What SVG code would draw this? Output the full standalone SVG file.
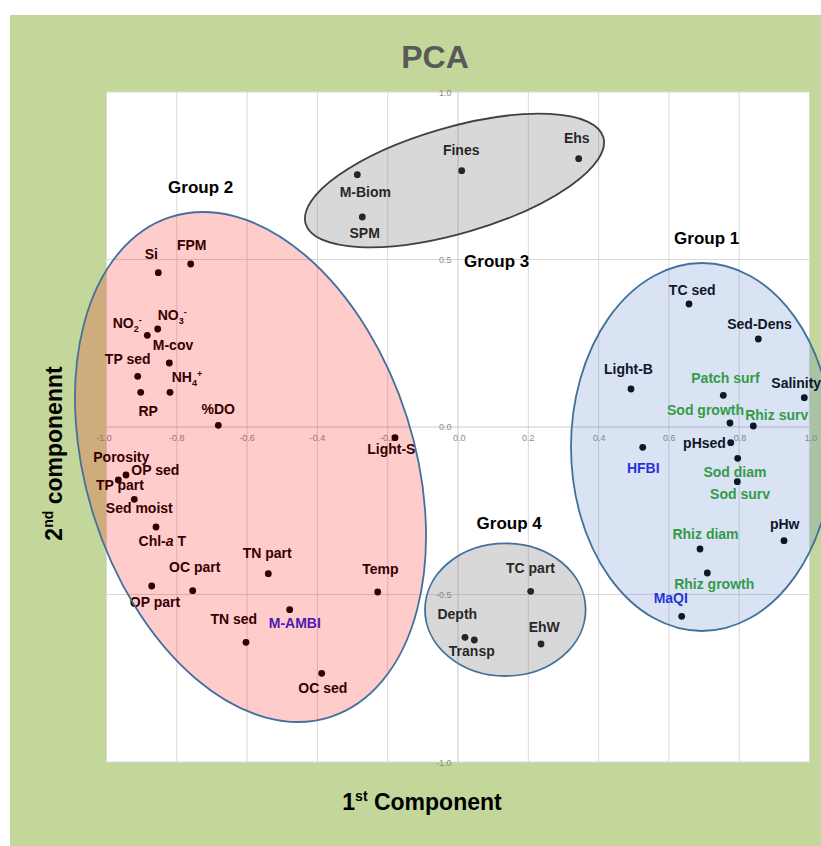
<svg xmlns="http://www.w3.org/2000/svg" width="821" height="846" viewBox="0 0 821 846">
<style>
text{font-family:"Liberation Sans",Arial,sans-serif}
.lbl{font-size:14px;font-weight:bold;text-anchor:middle;fill:#000}
.st{text-anchor:start}
.grp{font-size:17px;font-weight:bold;text-anchor:middle;fill:#000}
.tick{font-size:9px;fill:#8C8C8C;text-anchor:middle}
.ytick{font-size:9px;fill:#8C8C8C;text-anchor:end}
.green{fill:#2FA62A}
.blue{fill:#1F1FE0}
.grid{stroke:#D9D9D9;stroke-width:1}
.ax{stroke:#C8C8C8;stroke-width:1}
.sub{font-size:9px}
.e1{fill:#4472C4;fill-opacity:.2;stroke:#41719C;stroke-width:1.8}
.e2{fill:#FF0000;fill-opacity:.2;stroke:#41719C;stroke-width:1.8}
.e3{fill:#7F7F7F;fill-opacity:.3;stroke:#404040;stroke-width:1.8}
.e4{fill:#7F7F7F;fill-opacity:.3;stroke:#41719C;stroke-width:1.8}
</style>
<defs>
<circle id="d" r="3.4" fill="#000"/>
</defs>
<rect x="10" y="15" width="811" height="831" fill="#C4D79B"/>
<text x="435" y="68" font-size="32" font-weight="bold" fill="#595959" text-anchor="middle">PCA</text>
<rect x="106.5" y="92" width="703" height="670" fill="#fff"/>
<g id="grid">
<line class="grid" x1="106.5" y1="92" x2="106.5" y2="762"/>
<line class="grid" x1="176.8" y1="92" x2="176.8" y2="762"/>
<line class="grid" x1="247.1" y1="92" x2="247.1" y2="762"/>
<line class="grid" x1="317.4" y1="92" x2="317.4" y2="762"/>
<line class="grid" x1="387.7" y1="92" x2="387.7" y2="762"/>
<line class="grid" x1="528.3" y1="92" x2="528.3" y2="762"/>
<line class="grid" x1="598.6" y1="92" x2="598.6" y2="762"/>
<line class="grid" x1="668.9" y1="92" x2="668.9" y2="762"/>
<line class="grid" x1="739.2" y1="92" x2="739.2" y2="762"/>
<line class="grid" x1="809.5" y1="92" x2="809.5" y2="762"/>
<line class="grid" x1="106.5" y1="92" x2="809.5" y2="92"/>
<line class="grid" x1="106.5" y1="259.5" x2="809.5" y2="259.5"/>
<line class="grid" x1="106.5" y1="594.5" x2="809.5" y2="594.5"/>
<line class="grid" x1="106.5" y1="762" x2="809.5" y2="762"/>
</g>
<g id="connectors">
<line class="ax" x1="458" y1="92" x2="458" y2="762"/>
<line class="ax" x1="106.5" y1="427" x2="809.5" y2="427"/>
</g>
<g id="ticks">
<text class="tick" x="104" y="441">-1.0</text>
<text class="tick" x="176.8" y="441">-0.8</text>
<text class="tick" x="247.1" y="441">-0.6</text>
<text class="tick" x="317.4" y="441">-0.4</text>
<text class="tick" x="387.7" y="441">-0.2</text>
<text class="tick" x="459.3" y="441">0.0</text>
<text class="tick" x="528.3" y="441">0.2</text>
<text class="tick" x="599.3" y="441">0.4</text>
<text class="tick" x="669.3" y="441">0.6</text>
<text class="tick" x="740" y="441">0.8</text>
<text class="tick" x="811" y="441">1.0</text>
<text class="ytick" x="451.5" y="96">1.0</text>
<text class="ytick" x="451.5" y="263">0.5</text>
<text class="ytick" x="451.5" y="430">0.0</text>
<text class="ytick" x="451.5" y="597.5">-0.5</text>
<text class="ytick" x="451.5" y="766">-1.0</text>
</g>
<g id="group2">
<text class="grp" x="200.7" y="193.3">Group 2</text>
<use href="#d" x="158.3" y="272.7"/><text class="lbl" x="151.3" y="259.3">Si</text>
<use href="#d" x="190.7" y="264"/><text class="lbl" x="191.7" y="250">FPM</text>
<use href="#d" x="157.7" y="329"/><text class="lbl st" x="157.7" y="320">NO<tspan class="sub" dy="4">3</tspan><tspan class="sub" dy="-9">-</tspan></text>
<use href="#d" x="147.3" y="335.3"/><text class="lbl st" x="112.7" y="328.3">NO<tspan class="sub" dy="4">2</tspan><tspan class="sub" dy="-9">-</tspan></text>
<use href="#d" x="169.3" y="363"/><text class="lbl" x="173" y="350">M-cov</text>
<use href="#d" x="137.7" y="376.3"/><text class="lbl" x="127.7" y="364">TP sed</text>
<use href="#d" x="170" y="392.3"/><text class="lbl st" x="171.7" y="381.7">NH<tspan class="sub" dy="4">4</tspan><tspan class="sub" dy="-9">+</tspan></text>
<use href="#d" x="140.7" y="392.3"/><text class="lbl" x="148.2" y="415.7">RP</text>
<use href="#d" x="218.3" y="425.3"/><text class="lbl" x="218.3" y="414">%DO</text>
<use href="#d" x="395" y="437.7"/><text class="lbl" x="391.3" y="454.3">Light-S</text>
<text class="lbl" x="121.3" y="461.7">Porosity</text>
<use href="#d" x="126" y="475"/><text class="lbl" x="155.3" y="475">OP sed</text>
<use href="#d" x="118.3" y="480"/><text class="lbl" x="120" y="490">TP part</text>
<use href="#d" x="134.3" y="499.3"/><text class="lbl" x="139.3" y="512.7">Sed moist</text>
<use href="#d" x="156" y="527"/><text class="lbl" x="162.3" y="545.7">Chl-<tspan font-style="italic">a</tspan> T</text>
<use href="#d" x="268.3" y="573.7"/><text class="lbl" x="267.2" y="557.7">TN part</text>
<use href="#d" x="192.7" y="590.7"/><text class="lbl" x="194.7" y="571.7">OC part</text>
<use href="#d" x="151.7" y="586"/><text class="lbl" x="155" y="607.3">OP part</text>
<use href="#d" x="377.7" y="592"/><text class="lbl" x="380.3" y="574.3">Temp</text>
<use href="#d" x="289.7" y="609.7"/><text class="lbl blue" x="294.8" y="628.3">M-AMBI</text>
<use href="#d" x="246" y="642.3"/><text class="lbl" x="233.8" y="624">TN sed</text>
<use href="#d" x="321.7" y="673.3"/><text class="lbl" x="322.8" y="692.7">OC sed</text>
<ellipse class="e2" cx="250.5" cy="467" rx="164.2" ry="262.4" transform="rotate(-17.65 250.5 467)"/>
</g>
<g id="group3">
<text class="grp" x="496.7" y="266.7">Group 3</text>
<use href="#d" x="461.7" y="170.7"/><text class="lbl" x="461.2" y="155">Fines</text>
<use href="#d" x="578.7" y="158.7"/><text class="lbl" x="576.8" y="142.7">Ehs</text>
<use href="#d" x="357.3" y="174.7"/><text class="lbl" x="365.3" y="196.7">M-Biom</text>
<use href="#d" x="362.3" y="217"/><text class="lbl" x="364.7" y="238.3">SPM</text>
<ellipse class="e3" cx="454.5" cy="180.5" rx="155" ry="53" transform="rotate(-16.2 454.5 180.5)"/>
</g>
<g id="group4">
<text class="grp" x="509.2" y="528.7">Group 4</text>
<use href="#d" x="530.7" y="591.3"/><text class="lbl" x="530.5" y="573.3">TC part</text>
<use href="#d" x="465" y="637.3"/><text class="lbl" x="457.3" y="619.3">Depth</text>
<use href="#d" x="474.3" y="640"/><text class="lbl" x="471.8" y="655.7">Transp</text>
<use href="#d" x="541" y="644"/><text class="lbl" x="544.3" y="631.7">EhW</text>
<ellipse class="e4" cx="505.3" cy="609.7" rx="80.3" ry="66.3"/>
</g>
<g id="group1">
<text class="grp" x="706.7" y="244">Group 1</text>
<use href="#d" x="689" y="304"/><text class="lbl" x="692.2" y="295">TC sed</text>
<use href="#d" x="758.3" y="339"/><text class="lbl" x="759.5" y="329.3">Sed-Dens</text>
<use href="#d" x="631" y="389"/><text class="lbl" x="628.5" y="374">Light-B</text>
<use href="#d" x="723.3" y="395.3"/><text class="lbl green" x="725.5" y="383.3">Patch surf</text>
<use href="#d" x="804.3" y="397.7"/><text class="lbl" x="796.2" y="387.7">Salinity</text>
<use href="#d" x="730" y="423"/><text class="lbl green" x="705.5" y="415">Sod growth</text>
<use href="#d" x="753.3" y="426"/><text class="lbl green" x="776.7" y="420">Rhiz surv</text>
<use href="#d" x="730.7" y="442.7"/><text class="lbl" x="704.5" y="448.3">pHsed</text>
<use href="#d" x="642.7" y="447.3"/><text class="lbl blue" x="643.3" y="473.3">HFBI</text>
<use href="#d" x="737.7" y="458.3"/><text class="lbl green" x="735" y="476.7">Sod diam</text>
<use href="#d" x="737.3" y="481.7"/><text class="lbl green" x="740" y="499.3">Sod surv</text>
<use href="#d" x="784" y="540.7"/><text class="lbl" x="784.7" y="529.3">pHw</text>
<use href="#d" x="700" y="549"/><text class="lbl green" x="705.5" y="539.3">Rhiz diam</text>
<use href="#d" x="707.3" y="573"/><text class="lbl green" x="714.2" y="589.3">Rhiz growth</text>
<use href="#d" x="681.7" y="616.3"/><text class="lbl blue" x="670.8" y="603.3">MaQI</text>
<ellipse class="e1" cx="702" cy="447" rx="131" ry="184"/>
</g>
<g id="titles">
<text x="422" y="810" font-size="23" font-weight="bold" text-anchor="middle">1<tspan font-size="14" dy="-9">st</tspan><tspan dy="9"> Component</tspan></text>
<text transform="translate(62 453.5) rotate(-90)" font-size="23" font-weight="bold" text-anchor="middle">2<tspan font-size="14" dy="-9">nd</tspan><tspan dy="9"> componennt</tspan></text>
</g>
</svg>
